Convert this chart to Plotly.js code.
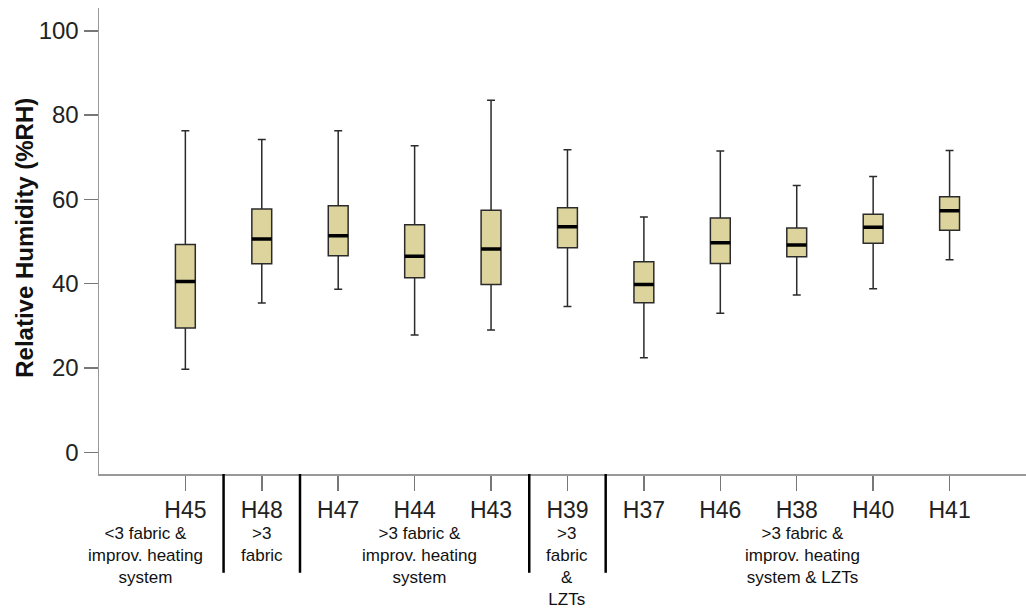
<!DOCTYPE html>
<html>
<head>
<meta charset="utf-8">
<script src="https://cdn.plot.ly/plotly-3.0.1.min.js"></script>
<style>html,body{margin:0;padding:0;background:#fff;}#chart{width:1026px;height:614px;}</style>
</head>
<body>
<div id="chart"></div>
<script>
// ---- data ----
var houses = ['H45','H48','H47','H44','H43','H39','H37','H46','H38','H40','H41'];
var lowerWhisker = [19.7, 35.4, 38.7, 27.8, 29.0, 34.6, 22.4, 33.0, 37.3, 38.8, 45.7];
var q1Values     = [29.5, 44.7, 46.6, 41.4, 39.8, 48.5, 35.5, 44.8, 46.4, 49.6, 52.7];
var medianValues = [40.5, 50.6, 51.4, 46.5, 48.2, 53.5, 39.8, 49.7, 49.2, 53.4, 57.3];
var q3Values     = [49.3, 57.7, 58.5, 54.0, 57.4, 58.0, 45.2, 55.6, 53.2, 56.5, 60.6];
var upperWhisker = [76.3, 74.2, 76.3, 72.7, 83.5, 71.8, 55.8, 71.5, 63.3, 65.4, 71.6];
var groupLabels = [
  '&lt;3 fabric &amp;<br>improv. heating<br>system',
  '&gt;3<br>fabric',
  '&gt;3 fabric &amp;<br>improv. heating<br>system',
  '&gt;3<br>fabric<br>&amp;<br>LZTs',
  '&gt;3 fabric &amp;<br>improv. heating<br>system &amp; LZTs'
];
var groupSizes = [1, 1, 3, 1, 5];
var yTickVals = [0, 20, 40, 60, 80, 100];
var yTitle = 'Relative Humidity (%RH)';

// ---- styles ----
var FONT = '"Liberation Sans", Arial, sans-serif';
var boxWidth = 0.26;
var groupShift = [-40, 0, 5, 0, 6];

var boxes = {
  type: 'box', x: houses,
  q1: q1Values, median: medianValues, q3: q3Values,
  lowerfence: lowerWhisker, upperfence: upperWhisker,
  width: boxWidth, whiskerwidth: 0.4,
  fillcolor: '#dcd49c',
  line: {color: '#2b2b2b', width: 1.5},
  boxpoints: false, showlegend: false, hoverinfo: 'skip'
};
var medians = {
  type: 'box', x: houses,
  q1: medianValues, median: medianValues, q3: medianValues,
  lowerfence: medianValues, upperfence: medianValues,
  width: boxWidth, whiskerwidth: 0,
  fillcolor: 'rgba(0,0,0,0)',
  line: {color: '#000', width: 3.5},
  boxpoints: false, showlegend: false, hoverinfo: 'skip'
};

var annotations = [{
  xref: 'paper', yref: 'paper', x: -0.0798, y: 0.507,
  text: '<b>' + yTitle + '</b>', textangle: -90, showarrow: false,
  xanchor: 'center', yanchor: 'middle',
  font: {family: FONT, size: 24, color: '#111'}
}];
var shapes = [];
var start = 0;
groupSizes.forEach(function (n, g) {
  var center = start + (n - 1) / 2;
  annotations.push({
    xref: 'x', yref: 'paper', x: center, y: -0.104,
    xanchor: 'center', yanchor: 'top', align: 'center',
    xshift: groupShift[g],
    text: groupLabels[g], showarrow: false,
    font: {family: FONT, size: 17, color: '#111'}
  });
  if (g > 0) {
    shapes.push({
      type: 'line', xref: 'x', yref: 'paper',
      x0: start - 0.5, x1: start - 0.5, y0: 0, y1: -0.212,
      line: {color: '#000', width: 2.5}
    });
  }
  start += n;
});

var layout = {
  width: 1026, height: 614,
  margin: {l: 99, r: 0, t: 8, b: 140},
  paper_bgcolor: '#fff', plot_bgcolor: '#fff',
  boxmode: 'overlay',
  font: {family: FONT, color: '#222'},
  xaxis: {
    type: 'category', categoryorder: 'array', categoryarray: houses,
    range: [-1.13, 11.0],
    showline: true, linecolor: '#999', linewidth: 1.5,
    ticks: 'outside', ticklen: 15, tickcolor: '#777', tickwidth: 1.5,
    tickfont: {family: FONT, size: 23, color: '#222'},
    showgrid: false, zeroline: false
  },
  yaxis: {
    range: [-5.15, 105.4],
    tickvals: yTickVals,
    showline: true, linecolor: '#999', linewidth: 1.5,
    ticks: 'outside', ticklen: 14, tickcolor: '#777', tickwidth: 1.5,
    tickfont: {family: FONT, size: 24, color: '#222'},
    showgrid: false, zeroline: false
  },
  annotations: annotations,
  shapes: shapes
};

Plotly.newPlot('chart', [boxes, medians], layout, {staticPlot: true, displayModeBar: false});
</script>
</body>
</html>
